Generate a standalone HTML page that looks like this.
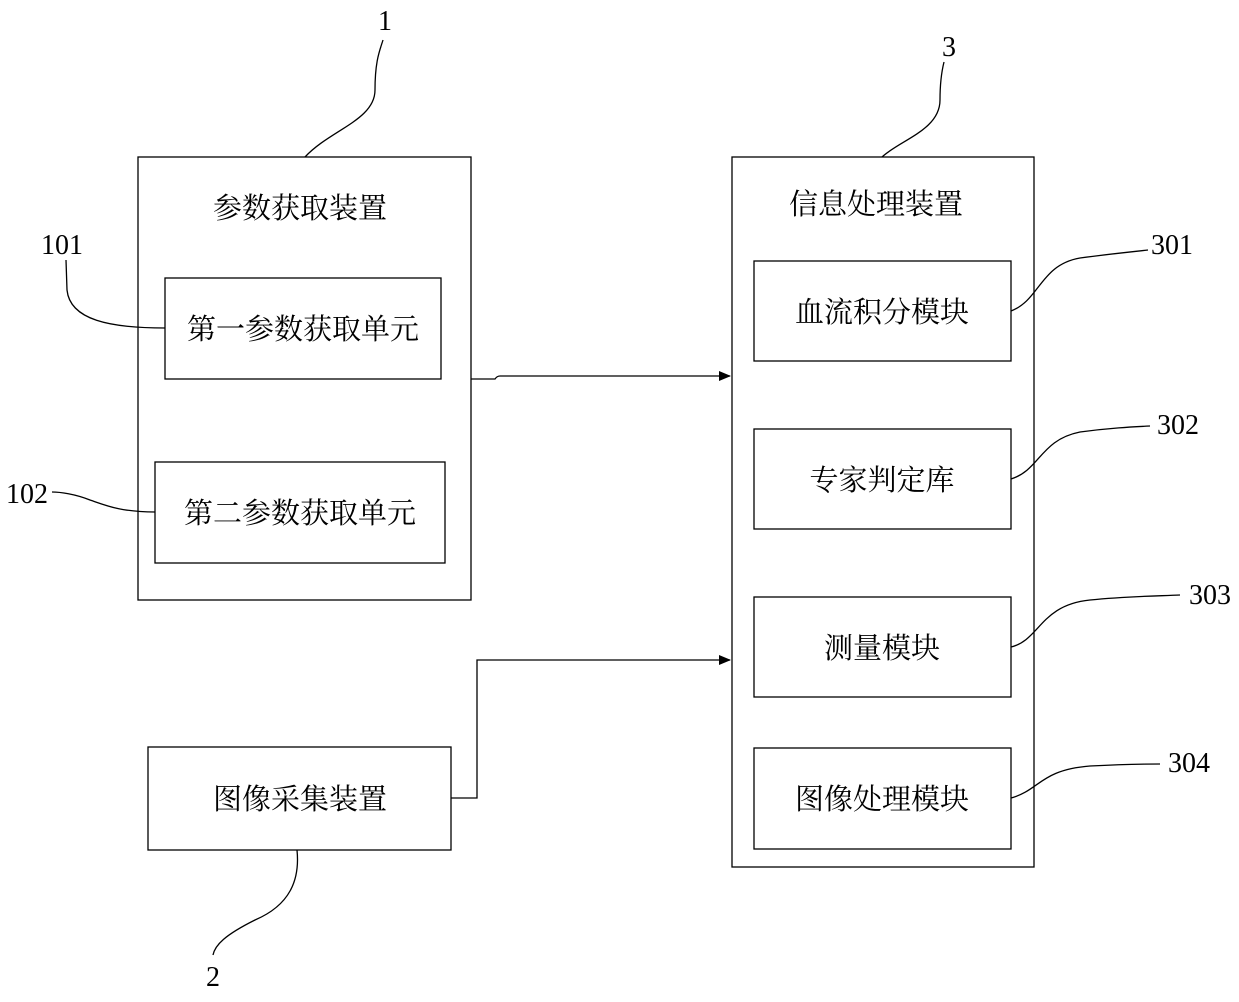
<!DOCTYPE html>
<html><head><meta charset="utf-8"><style>
html,body{margin:0;padding:0;background:#fff;}
svg text{font-family:"Liberation Serif","Noto Serif CJK SC",serif;fill:#000;}
</style></head><body>
<svg width="1239" height="997" viewBox="0 0 1239 997" xmlns="http://www.w3.org/2000/svg">
<defs><marker id="a" markerWidth="12" markerHeight="10" refX="11" refY="5" orient="auto" markerUnits="userSpaceOnUse"><path d="M0,0 L12,5 L0,10 Z" fill="#000"/></marker></defs>
<g fill="none" stroke="#000" stroke-width="1.3">
<rect x="138" y="157" width="333" height="443"/>
<rect x="165" y="278" width="276" height="101"/>
<rect x="155" y="462" width="290" height="101"/>
<rect x="732" y="157" width="302" height="710"/>
<rect x="754" y="261" width="257" height="100"/>
<rect x="754" y="429" width="257" height="100"/>
<rect x="754" y="597" width="257" height="100"/>
<rect x="754" y="748" width="257" height="101"/>
<rect x="148" y="747" width="303" height="103"/>
<path d="M471,379 L495,379 Q497,376 500,376 L730,376" marker-end="url(#a)"/>
<path d="M451,798 L477,798 L477,660 L730,660" marker-end="url(#a)"/>
<path d="M305,157 C330,130 375,120 375,90 C375,60 380,50 383,40"/>
<path d="M882,157 C900,140 940,130 940,100 C940,80 942,70 944,62"/>
<path d="M165,328 C110,328 70,320 67,290 L66,260"/>
<path d="M155,512 C120,512 105,505 90,500 C75,494 60,492 52,492"/>
<path d="M1011,311 C1040,300 1040,265 1080,258 C1110,254 1130,252 1148,250"/>
<path d="M1011,479 C1040,470 1040,440 1080,432 C1110,428 1130,427 1150,426"/>
<path d="M1011,647 C1040,640 1040,605 1090,600 C1130,596 1160,596 1180,595"/>
<path d="M1011,798 C1040,790 1040,770 1090,766 C1130,764 1150,764 1160,764"/>
<path d="M297,850 C300,880 290,905 255,920 C225,935 215,945 213,955"/>
</g>
<g font-size="29" text-anchor="middle">
<text x="300" y="218">参数获取装置</text>
<text x="303" y="339">第一参数获取单元</text>
<text x="300" y="523">第二参数获取单元</text>
<text x="876" y="214">信息处理装置</text>
<text x="882" y="322">血流积分模块</text>
<text x="882" y="490">专家判定库</text>
<text x="882" y="658">测量模块</text>
<text x="882" y="809">图像处理模块</text>
<text x="300" y="809">图像采集装置</text>
</g>
<g font-size="28" text-anchor="middle">
<text x="385" y="30">1</text>
<text x="949" y="56">3</text>
<text x="62" y="254">101</text>
<text x="27" y="503">102</text>
<text x="1172" y="254">301</text>
<text x="1178" y="434">302</text>
<text x="1210" y="604">303</text>
<text x="1189" y="772">304</text>
<text x="213" y="986">2</text>
</g>
</svg>
</body></html>
